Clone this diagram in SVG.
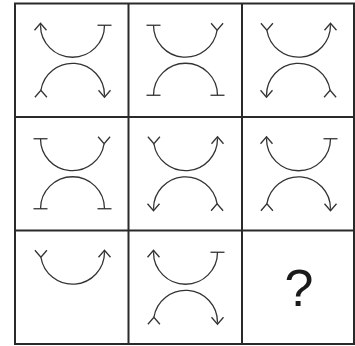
<svg xmlns="http://www.w3.org/2000/svg" xmlns:xlink="http://www.w3.org/1999/xlink" width="355" height="346" viewBox="0 0 355 346">
<style>
.grid{fill:none;stroke:#2a2a2a;stroke-width:2}
.arc{fill:none;stroke:#333;stroke-width:1.3}
.q{font-family:"Liberation Sans","DejaVu Sans",sans-serif;font-size:52px;fill:#1a1a1a;text-anchor:middle}
</style>
<defs>
<path id="arrowU" class="arc" d="M0,0 L0,-2 M-6,5 L0,-2 L6,5"/>
<path id="arrowD" class="arc" d="M0,0 L0,2 M-6,-5 L0,2 L6,-5"/>
<path id="tailU" class="arc" d="M-6,-2 L0,5 L6,-2"/>
<path id="tailD" class="arc" d="M-6,2 L0,-5 L6,2"/>
<path id="bar" class="arc" d="M-7,0 L7,0"/>
</defs>
<rect fill="#fff" x="0" y="0" width="355" height="346"/>
<g id="grid">
<rect class="grid" x="15" y="3.5" width="339" height="340.5"/>
<path class="grid" d="M128.5,3.5 V344 M242,3.5 V344 M15,117 H354 M15,230.5 H354"/>
</g>
<g id="cell-1-1">
<path class="arc" d="M40.5,25.25 A32,32 0 0 0 104.5,25.25"/>
<use xlink:href="#arrowU" x="40.5" y="25.25"/>
<use xlink:href="#bar" x="104.5" y="25.25"/>
<path class="arc" d="M40.9,90.25 A32,32 0 0 1 104.5,95.25"/>
<use xlink:href="#tailD" x="40.9" y="95.25"/>
<use xlink:href="#arrowD" x="104.5" y="95.25"/>
</g>
<g id="cell-1-2">
<path class="arc" d="M153.5,25.25 A32,32 0 0 0 217.1,30.25"/>
<use xlink:href="#bar" x="153.5" y="25.25"/>
<use xlink:href="#tailU" x="217.1" y="25.25"/>
<path class="arc" d="M153.5,95.25 A32,32 0 0 1 217.5,95.25"/>
<use xlink:href="#bar" x="153.5" y="95.25"/>
<use xlink:href="#bar" x="217.5" y="95.25"/>
</g>
<g id="cell-1-3">
<path class="arc" d="M266.9,30.25 A32,32 0 0 0 330.5,25.25"/>
<use xlink:href="#tailU" x="266.9" y="25.25"/>
<use xlink:href="#arrowU" x="330.5" y="25.25"/>
<path class="arc" d="M266.5,95.25 A32,32 0 0 1 330.1,90.25"/>
<use xlink:href="#arrowD" x="266.5" y="95.25"/>
<use xlink:href="#tailD" x="330.1" y="95.25"/>
</g>
<g id="cell-2-1">
<path class="arc" d="M40.5,138.75 A32,32 0 0 0 104.1,143.75"/>
<use xlink:href="#bar" x="40.5" y="138.75"/>
<use xlink:href="#tailU" x="104.1" y="138.75"/>
<path class="arc" d="M40.5,208.75 A32,32 0 0 1 104.5,208.75"/>
<use xlink:href="#bar" x="40.5" y="208.75"/>
<use xlink:href="#bar" x="104.5" y="208.75"/>
</g>
<g id="cell-2-2">
<path class="arc" d="M153.9,143.75 A32,32 0 0 0 217.5,138.75"/>
<use xlink:href="#tailU" x="153.9" y="138.75"/>
<use xlink:href="#arrowU" x="217.5" y="138.75"/>
<path class="arc" d="M153.5,208.75 A32,32 0 0 1 217.1,203.75"/>
<use xlink:href="#arrowD" x="153.5" y="208.75"/>
<use xlink:href="#tailD" x="217.1" y="208.75"/>
</g>
<g id="cell-2-3">
<path class="arc" d="M266.5,138.75 A32,32 0 0 0 330.5,138.75"/>
<use xlink:href="#arrowU" x="266.5" y="138.75"/>
<use xlink:href="#bar" x="330.5" y="138.75"/>
<path class="arc" d="M266.9,203.75 A32,32 0 0 1 330.5,208.75"/>
<use xlink:href="#tailD" x="266.9" y="208.75"/>
<use xlink:href="#arrowD" x="330.5" y="208.75"/>
</g>
<g id="cell-3-1">
<path class="arc" d="M40.9,257.25 A32,32 0 0 0 104.5,252.25"/>
<use xlink:href="#tailU" x="40.9" y="252.25"/>
<use xlink:href="#arrowU" x="104.5" y="252.25"/>
</g>
<g id="cell-3-2">
<path class="arc" d="M153.5,252.25 A32,32 0 0 0 217.5,252.25"/>
<use xlink:href="#arrowU" x="153.5" y="252.25"/>
<use xlink:href="#bar" x="217.5" y="252.25"/>
<path class="arc" d="M153.9,317.25 A32,32 0 0 1 217.5,322.25"/>
<use xlink:href="#tailD" x="153.9" y="322.25"/>
<use xlink:href="#arrowD" x="217.5" y="322.25"/>
</g>
<g id="cell-3-3">
<text class="q" x="299" y="306">?</text>
</g>
</svg>
